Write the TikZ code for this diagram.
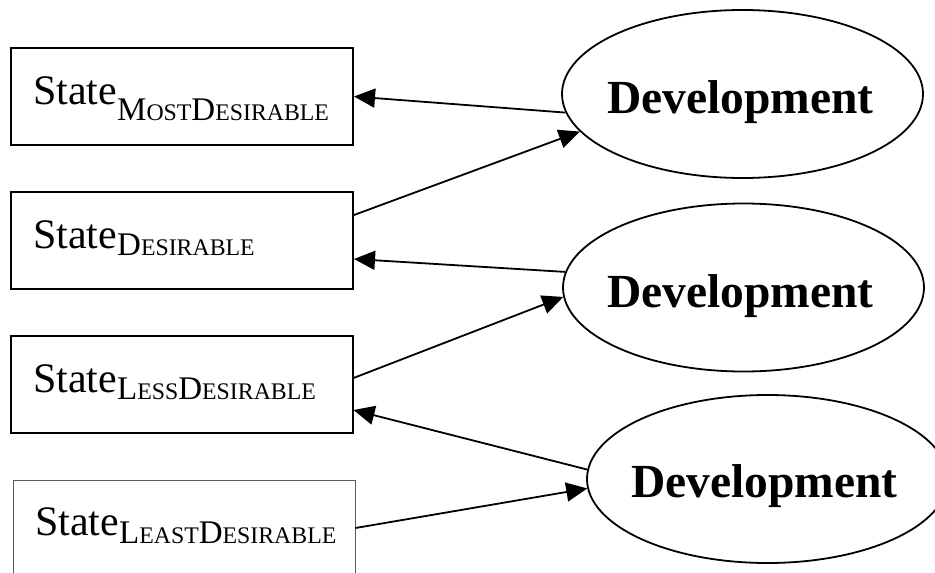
\documentclass[tikz,border=0pt]{standalone}
\usepackage{fontspec}
\setmainfont{Liberation Serif}
\usetikzlibrary{arrows.meta,shapes.geometric}

% subscript set in small capitals: big initial letters and reduced capitals
\newcommand\SubBig[1]{{\fontsize{33}{35}\selectfont #1}}
\newcommand\SubSm[1]{{\fontsize{23.8}{25}\selectfont #1}}
\newcommand\StSub[2]{\raisebox{-#1pt}{#2}}

\tikzset{
  statebox/.style={draw, line width=2pt, minimum width=342pt, minimum height=97pt, inner sep=0pt},
  faintbox/.style={draw=black!65, line width=0.9pt, minimum width=342pt, minimum height=96pt, inner sep=0pt},
  statetext/.style={anchor=base west, inner sep=0pt, font=\fontsize{42}{45}\selectfont},
  devel/.style={draw, line width=1.8pt, ellipse, minimum width=361pt, minimum height=168pt, inner sep=0pt},
  develtext/.style={anchor=base, inner sep=0pt, font=\bfseries\fontsize{47.5}{50}\selectfont},
  link/.style={line width=1.8pt, -{Triangle[length=21pt,width=19pt]}}
}

\begin{document}
\begin{tikzpicture}[x=1pt,y=-1pt]
  \useasboundingbox (0,0) rectangle (935,573);
  \clip (0,0) rectangle (935,573);

  % state boxes
  \node[statebox] (b1) at (182,96.5) {};
  \node[statebox] (b2) at (182,240) {};
  \node[statebox] (b3) at (181.5,384) {};
  \node[faintbox] (b4) at (184,528) {};

  \node[statetext] (t1) at (33,104) {State\StSub{16}{\SubBig{M}\SubSm{OST}\SubBig{D}\SubSm{ESIRABLE}}};
  \node[statetext] (t2) at (33,248) {State\StSub{7}{\SubBig{D}\SubSm{ESIRABLE}}};
  \node[statetext] (t3) at (33,392) {State\StSub{7}{\SubBig{L}\SubSm{ESS}\SubBig{D}\SubSm{ESIRABLE}}};
  \node[statetext] (t4) at (35,535) {State\StSub{8}{\SubBig{L}\SubSm{EAST}\SubBig{D}\SubSm{ESIRABLE}}};

  % development ellipses
  \node[devel] (e1) at (742.5,94) {};
  \node[devel] (e2) at (743.5,287.5) {};
  \node[devel] (e3) at (767.5,479) {};

  \node[develtext] (d1) at (740.5,113) {Development};
  \node[develtext] (d2) at (740.5,307) {Development};
  \node[develtext] (d3) at (764.5,497) {Development};

  % transitions
  \draw[link] (e1.186) -- (b1.east);
  \draw[link] ([yshift=25pt]b2.east) -- (e1.193.7);
  \draw[link] (e2.175.7) -- ([yshift=-19pt]b2.east);
  \draw[link] ([yshift=6pt]b3.east) -- (e2.183.6);
  \draw[link] (e3.177.5) -- ([yshift=-26pt]b3.east);
  \draw[link] (b4.east) -- (e3.183.5);
\end{tikzpicture}
\end{document}
